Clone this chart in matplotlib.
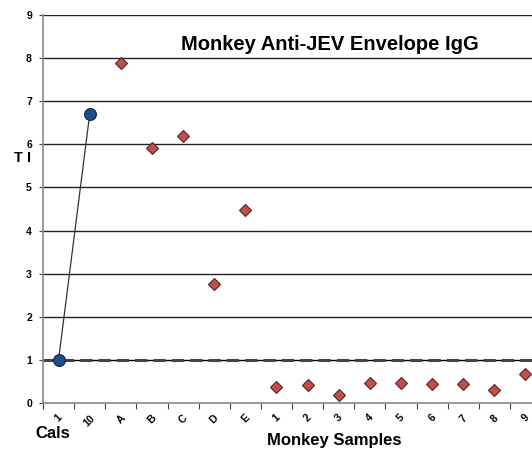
import matplotlib
matplotlib.use("Agg")
import matplotlib.pyplot as plt
import numpy as np

plt.rcParams['font.family'] = ['Liberation Sans', 'DejaVu Sans']

cal_labels = ["1", "10"]
cal_values = [1.0, 6.70]
sample_labels = ["A", "B", "C", "D", "E", "1", "2", "3", "4", "5", "6", "7", "8", "9"]
sample_values = [7.88, 5.91, 6.20, 2.76, 4.48, 0.36, 0.41, 0.19, 0.46, 0.46, 0.43, 0.43, 0.31, 0.67]
cutoff = 1.0
title = "Monkey Anti-JEV Envelope IgG"

all_labels = cal_labels + sample_labels
n = len(all_labels)
xc = np.arange(len(cal_labels))
xs = np.arange(len(cal_labels), n)

fig = plt.figure(figsize=(5.32, 4.54), dpi=100)
ax = fig.add_axes([43/532, 1-403/454, 498/532, 388/454])

ax.set_xlim(-0.5, n - 0.5)
ax.set_ylim(0, 9)

for y in range(2, 10):
    ax.axhline(y, color='#222222', lw=1.0, zorder=1)

ax.axhline(cutoff, color='black', lw=1.0, zorder=2)
ax.axhline(cutoff, color='#444444', lw=2.2, ls=(0, (4, 2)), zorder=2)

ax.plot(xc, cal_values, color='#333333', lw=0.9, zorder=3)
ax.plot(xc, cal_values, ls='none', marker='o', ms=8.5, mfc='#1F4E8C',
        mec='#0d2340', mew=0.8, zorder=4)
ax.plot(xs, sample_values, ls='none', marker='D', ms=6.5, mfc='#C0504D',
        mec='#5a2221', mew=0.8, zorder=4)

for s in ['top', 'right']:
    ax.spines[s].set_visible(False)
ax.spines['left'].set_color('#888888')
ax.spines['bottom'].set_color('#888888')
ax.spines['left'].set_linewidth(1.2)
ax.spines['bottom'].set_linewidth(1.2)

ax.set_yticks(range(0, 10))
ax.set_yticklabels([str(i) for i in range(0, 10)], fontsize=7.5, fontweight='bold')
ax.tick_params(axis='y', length=3, width=0.8, color='#444444', pad=5)

ax.set_xticks(np.arange(n))
ax.set_xticklabels(all_labels, rotation=45, fontsize=7.5, fontweight='bold',
                   ha='center', va='top')
ax.tick_params(axis='x', which='major', length=0, pad=7)
ax.set_xticks(np.arange(-0.5, n, 1.0), minor=True)
ax.tick_params(axis='x', which='minor', length=4, width=0.8, color='#444444')

fig.text(14/532, 1-158/454, "T I", fontsize=10.5, fontweight='bold', ha='left', va='center')
fig.text(330/532, 1-45/454, title, fontsize=14.5, fontweight='bold', ha='center', va='center')
fig.text(53/532, 1-434/454, "Cals", fontsize=12, fontweight='bold', ha='center', va='center')
fig.text(334/532, 1-441/454, "Monkey Samples", fontsize=12, fontweight='bold', ha='center', va='center')

fig.savefig("out.png", dpi=100)
